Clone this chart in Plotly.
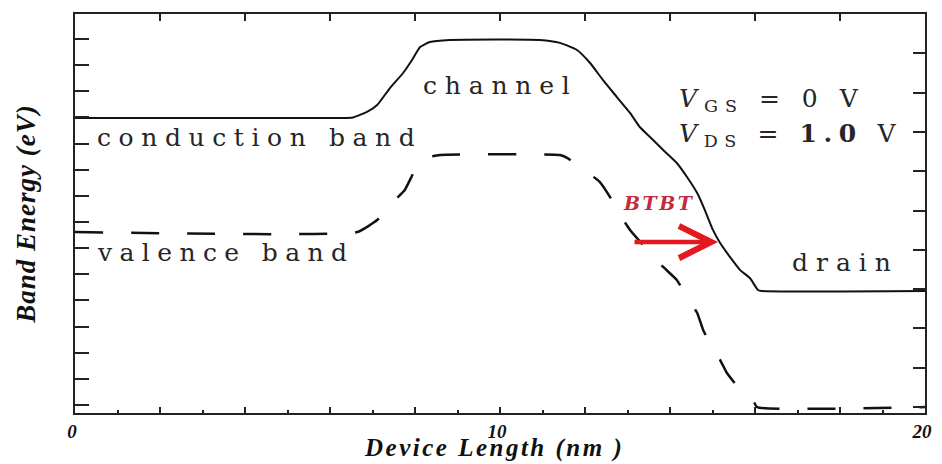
import plotly.graph_objects as go

# Device position (nm) and band energies (eV, arbitrary reference)
x_cond = [0.0, 6.24, 6.54, 6.87, 7.11, 7.41, 7.72, 7.93, 8.12, 8.35, 8.82, 10.94, 11.41, 11.81,
          12.12, 12.42, 12.75, 13.06, 13.29, 13.53, 13.84, 14.16, 14.40, 14.64, 14.82, 15.01,
          15.18, 15.41, 15.65, 15.88, 16.07, 16.16, 20.0]
e_cond = [0.500, 0.500, 0.503, 0.535, 0.575, 0.673, 0.760, 0.835, 0.910, 0.939, 0.951, 0.951, 0.934, 0.893,
          0.818, 0.720, 0.621, 0.529, 0.448, 0.390, 0.315, 0.240, 0.159, 0.066, -0.032, -0.147,
          -0.223, -0.303, -0.379, -0.425, -0.494, -0.500, -0.500]

x_val = [0.0, 6.64, 7.11, 7.48, 7.76, 8.00, 8.24, 8.59, 11.41, 11.58, 12.35, 12.59, 12.87, 13.06,
         13.53, 13.84, 14.16, 14.40, 14.64, 14.78, 14.94, 15.18, 15.34, 15.60, 15.95, 16.05, 20.0]
e_val = [-0.159, -0.159, -0.090, 0.014, 0.084, 0.199, 0.269, 0.286, 0.286, 0.269, 0.130, 0.043, -0.078, -0.147,
         -0.280, -0.361, -0.436, -0.535, -0.627, -0.725, -0.801, -0.899, -0.974, -1.055, -1.130, -1.171, -1.171]

x_tickvals = [0, 10, 20]
x_ticktext = ["0", "10", "20"]

# BTBT arrow (from valence band edge to conduction band edge)
btbt_from = (13.13, -0.217)
btbt_to = (15.13, -0.217)

Y_RANGE = [-1.205, 1.101]
SERIF_BI = dict(family="Liberation Serif", weight="bold", style="italic", color="#111")
CM = dict(family="DejaVu Serif", size=25, color="#262626")

fig = go.Figure()
fig.add_trace(go.Scatter(x=x_cond, y=e_cond, mode="lines", line=dict(color="#111", width=2, shape="spline", smoothing=0.5),
                         showlegend=False, hoverinfo="skip"))
fig.add_trace(go.Scatter(x=x_val, y=e_val, mode="lines", line=dict(color="#111", width=2.5, dash="28px,28px", shape="spline", smoothing=0.4),
                         showlegend=False, hoverinfo="skip"))
# invisible helper traces binding the extra frame axes (top, right, bottom minor ticks)
fig.add_trace(go.Scatter(x=[0], y=[0], xaxis="x2", yaxis="y2", mode="markers", marker=dict(opacity=0),
                         showlegend=False, hoverinfo="skip"))
fig.add_trace(go.Scatter(x=[0], y=[0], xaxis="x3", yaxis="y", mode="markers", marker=dict(opacity=0),
                         showlegend=False, hoverinfo="skip"))

def ls(t, sp):
    return '<span style="letter-spacing:%.1fpx">%s</span>' % (sp, t)

ann = [
    dict(x=0.47, y=0.385, text=ls("conduction band", 7.6), xanchor="left", yanchor="middle", font=CM),
    dict(x=0.47, y=-0.280, text=ls("valence band", 7.4), xanchor="left", yanchor="middle", font=CM),
    dict(x=10.0, y=0.685, text=ls("channel", 7.8), xanchor="center", yanchor="middle", font=CM),
    dict(x=18.13, y=-0.338, text=ls("drain", 8), xanchor="center", yanchor="middle", font=CM),
    dict(x=14.16, y=0.604, text=ls("<i>V</i><sub>GS</sub> = 0 V", 7), xanchor="left", yanchor="middle", font=CM),
    dict(x=14.16, y=0.402, text=ls("<i>V</i><sub>DS</sub> = <b>1.0</b> V", 6.6), xanchor="left", yanchor="middle", font=CM),
    dict(x=13.74, y=0.009, text=ls("BTBT", 2.5), xanchor="center", yanchor="middle",
         font=dict(family="DejaVu Serif", size=19, weight="bold", style="italic", color="#c42a3c")),
    dict(x=btbt_to[0], y=btbt_to[1], ax=btbt_from[0], ay=btbt_from[1], axref="x", ayref="y",
         text="", showarrow=True, arrowhead=5, arrowsize=1.4, arrowwidth=4.5, arrowcolor="#e3191f"),
    # x-axis title
    dict(x=0.493, y=-0.1278, xref="paper", yref="paper", text=ls("Device Length (nm )", 2.5),
         xanchor="center", yanchor="bottom", font=dict(size=25, **SERIF_BI)),
]
for a in ann:
    a.setdefault("showarrow", False)
    a.setdefault("xref", "x")
    a.setdefault("yref", "y")

FRAME = dict(showgrid=False, zeroline=False, showline=True, linecolor="#222", linewidth=2, tickcolor="#222",
             automargin=False)

fig.update_layout(
    width=942, height=464,
    margin=dict(l=75, r=17, t=14, b=51, autoexpand=False),
    paper_bgcolor="white", plot_bgcolor="white",
    annotations=ann,
    xaxis=dict(range=[0, 20], **FRAME, ticks="inside", ticklen=6, tickwidth=2,
               tickmode="array", tickvals=x_tickvals, ticktext=x_ticktext,
               minor=dict(ticks="inside", dtick=2, tick0=0, ticklen=6, tickwidth=2, tickcolor="#222"),
               tickfont=dict(size=19, **SERIF_BI), ticklabelstandoff=0, ticklabelshift=-3),
    xaxis3=dict(range=[0, 20], overlaying="x", side="bottom", anchor="y", showgrid=False, zeroline=False,
                showline=False, ticks="inside", ticklen=3, tickwidth=2, tickcolor="#222",
                dtick=1, tick0=1, showticklabels=False, automargin=False),
    xaxis2=dict(range=[0, 20], overlaying="x", side="top", anchor="y", **FRAME,
                ticks="inside", ticklen=7, tickwidth=2, dtick=2, tick0=0, showticklabels=False),
    yaxis=dict(range=Y_RANGE, **FRAME, ticks="inside", ticklen=14, tickwidth=2,
               tick0=-1.159, dtick=0.1511, showticklabels=False,
               title=dict(text=ls("Band Energy (eV)", 1), font=dict(size=27, **SERIF_BI), standoff=30)),
    yaxis2=dict(range=Y_RANGE, overlaying="y", side="right", anchor="x", **FRAME,
                ticks="inside", ticklen=12, tickwidth=2, tick0=-1.171, dtick=0.2272, showticklabels=False),
)

fig.write_html("out.html")
